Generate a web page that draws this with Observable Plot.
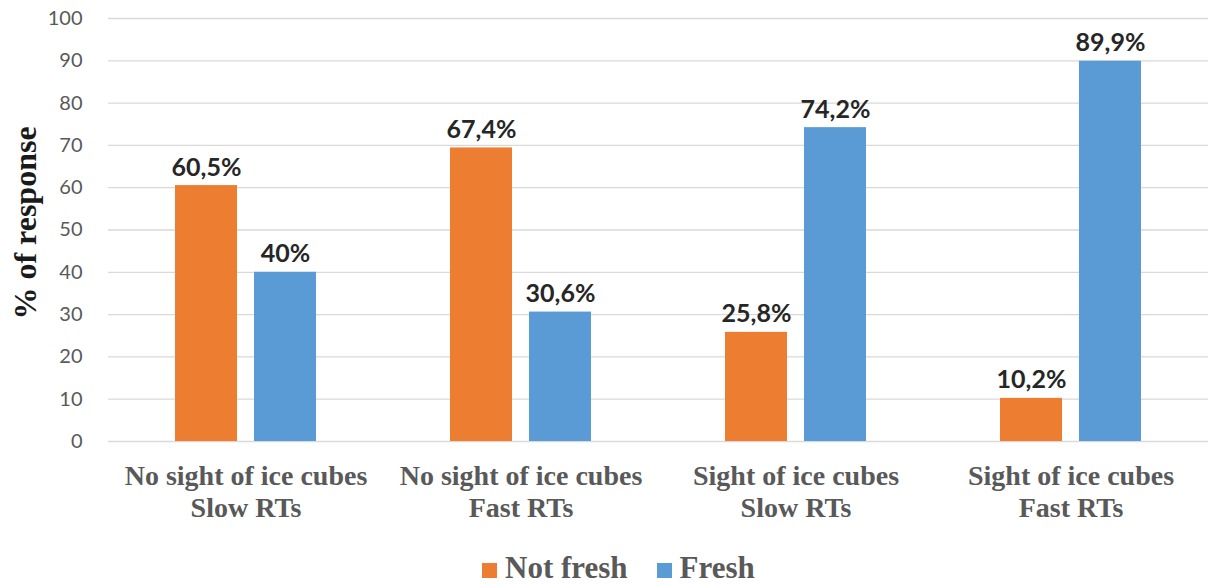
<!DOCTYPE html>
<html>
<head>
<meta charset="utf-8">
<script src="https://cdn.jsdelivr.net/npm/d3@7"></script>
<script src="https://cdn.jsdelivr.net/npm/@observablehq/plot@0.6"></script>
<style>
  html, body { margin: 0; padding: 0; background: #fff; }
  #wrap { position: relative; width: 1208px; height: 585px; overflow: hidden; }
  #legend { position: absolute; left: 482px; top: 552px; font-family: "Liberation Serif", serif; font-weight: bold; font-size: 31px; line-height: 1; color: #595959; white-space: nowrap; }
  #legend .item { display: inline-block; margin-right: 29px; }
  #legend .sw { display: inline-block; width: 15px; height: 15px; margin-right: 8px; vertical-align: baseline; }
  g[aria-label="y-title"] text { letter-spacing: 3px; }
</style>
</head>
<body>
<div id="wrap"></div>
<script>
// ---- data ----
const categories = [
  "No sight of ice cubes\nSlow RTs",
  "No sight of ice cubes\nFast RTs",
  "Sight of ice cubes\nSlow RTs",
  "Sight of ice cubes\nFast RTs"
];
const series = ["Not fresh", "Fresh"];
const notFreshValues = [60.5, 69.4, 25.8, 10.2];
const freshValues = [40, 30.6, 74.2, 89.9];
const notFreshLabels = ["60,5%", "67,4%", "25,8%", "10,2%"];
const freshLabels = ["40%", "30,6%", "74,2%", "89,9%"];
const yTicks = [0, 10, 20, 30, 40, 50, 60, 70, 80, 90, 100];
const colors = ["#ED7D31", "#5B9BD5"];
const yTitle = "% of response";

// ---- table ----
const rows = [];
categories.forEach((c, i) => {
  rows.push({category: c, series: series[0], value: notFreshValues[i], label: notFreshLabels[i]});
  rows.push({category: c, series: series[1], value: freshValues[i], label: freshLabels[i]});
});

const chart = Plot.plot({
  width: 1208,
  height: 540,
  marginLeft: 108,
  marginRight: 0,
  marginTop: 18,
  marginBottom: 99,
  style: {background: "#fff"},
  fx: {domain: categories, padding: 0, label: null},
  x: {domain: series, paddingInner: 0.215, paddingOuter: 0.848, axis: null},
  y: {domain: [0, 100], label: null},
  color: {domain: series, range: colors},
  marks: [
    Plot.gridY(yTicks, {stroke: "#d9d9d9", strokeOpacity: 1, strokeWidth: 1.3}),
    Plot.axisY(yTicks, {tickSize: 0, tickPadding: 26, fontSize: 20, fontFamily: "Lato, sans-serif", fill: "#595959", label: null}),
    Plot.barY(rows, {fx: "category", x: "series", y: "value", fill: "series"}),
    Plot.text(rows, {fx: "category", x: "series", y: "value", text: "label", lineAnchor: "bottom", dy: -10,
      fontSize: 25, fontWeight: "bold", fontFamily: "Lato, sans-serif", fill: "#262626"}),
    Plot.axisFx({anchor: "bottom", tickSize: 0, tickPadding: 20, fontSize: 28, fontWeight: "bold",
      fontFamily: "Liberation Serif, serif", fill: "#595959", lineHeight: 1.16, label: null}),
    Plot.text([{category: categories[0], t: yTitle}], {fx: "category", text: "t", frameAnchor: "left", rotate: -90,
      dx: -83, dy: -7, textAnchor: "middle", lineAnchor: "middle", fontSize: 32, fontWeight: "bold",
      fontFamily: "Liberation Serif, serif", fill: "#1a1a1a", ariaLabel: "y-title"})
  ]
});

const wrap = document.getElementById("wrap");
wrap.appendChild(chart);

const legend = document.createElement("div");
legend.id = "legend";
series.forEach((s, i) => {
  const item = document.createElement("span");
  item.className = "item";
  const sw = document.createElement("span");
  sw.className = "sw";
  sw.style.background = colors[i];
  item.appendChild(sw);
  item.appendChild(document.createTextNode(s));
  legend.appendChild(item);
});
wrap.appendChild(legend);
</script>
</body>
</html>
